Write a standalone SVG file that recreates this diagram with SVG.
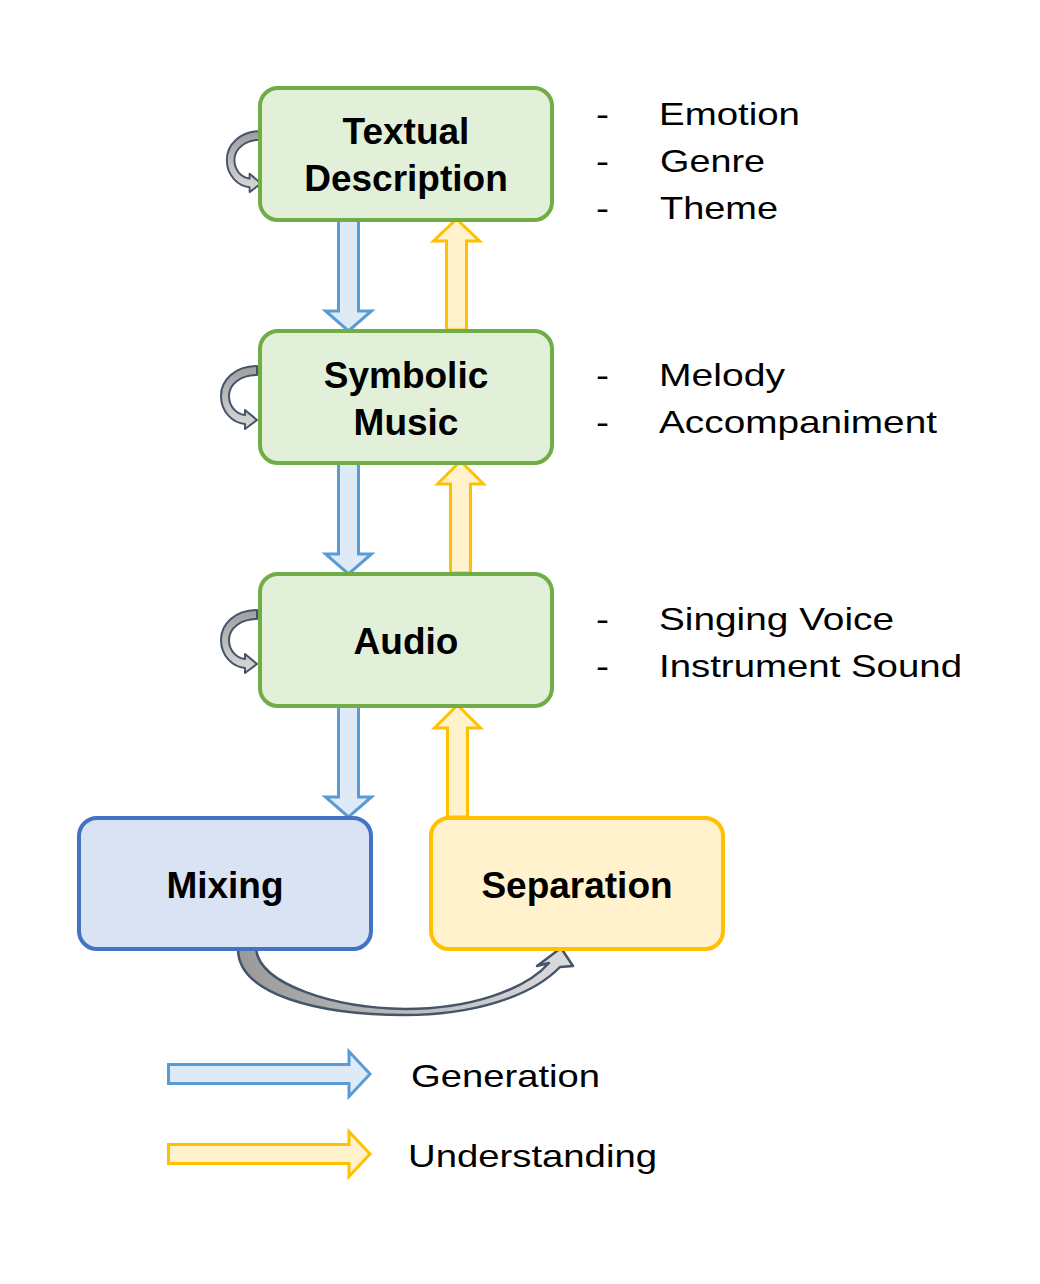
<svg xmlns="http://www.w3.org/2000/svg" width="1040" height="1284" viewBox="0 0 1040 1284">
<defs>
<linearGradient id="gLoop" x1="0" y1="0" x2="0" y2="1">
<stop offset="0" stop-color="#9E9E9E"/>
<stop offset="1" stop-color="#DADADA"/>
</linearGradient>
<linearGradient id="gCurve" x1="0" y1="0" x2="1" y2="0">
<stop offset="0" stop-color="#9A9A9A"/>
<stop offset="1" stop-color="#DCDCDC"/>
</linearGradient>
<path id="loop" d="M0,0 C-22,0 -36,14 -36,30 C-36,46 -24,57 -12,58 L-12,63 L0,54 L-12,44 L-12,49 C-21,48 -28,40 -28,30 C-28,18 -16,9 0,9 Z"/>
</defs>
<style>
.green{fill:#E2F0D9;stroke:#70AD47;stroke-width:4}
.bluebox{fill:#DAE3F3;stroke:#4472C4;stroke-width:4}
.yellowbox{fill:#FFF2CC;stroke:#FFC000;stroke-width:4}
.gen{fill:#DEEBF7;stroke:#5B9BD5;stroke-width:3}
.und{fill:#FFF2CC;stroke:#FFC000;stroke-width:3}
.lbl{font-family:"Liberation Sans",Arial,sans-serif;font-weight:bold;font-size:37px;fill:#000;text-anchor:middle}
.txt{font-family:"Liberation Sans",Arial,sans-serif;font-size:32px;fill:#000}
.loop{fill:url(#gLoop);stroke:#44546A;stroke-width:2;stroke-linejoin:round}
</style>
<rect width="1040" height="1284" fill="#FFFFFF"/>

<g id="connectors">
<polygon class="gen" points="338.5,219 358.5,219 358.5,311 371.5,311 348.5,331 325.5,311 338.5,311"/>
<polygon class="und" points="446.5,330 466.5,330 466.5,241 479.5,241 456.5,219 433.5,241 446.5,241"/>
<polygon class="gen" points="338.5,462 358.5,462 358.5,554 371.5,554 348.5,574 325.5,554 338.5,554"/>
<polygon class="und" points="450.5,573 470.5,573 470.5,484 483.5,484 460.5,461 437.5,484 450.5,484"/>
<polygon class="gen" points="338.5,705 358.5,705 358.5,797 371.5,797 348.5,817 325.5,797 338.5,797"/>
<polygon class="und" points="447.5,817 467.5,817 467.5,728 480.5,728 457.5,705 434.5,728 447.5,728"/>
<use href="#loop" class="loop" transform="translate(261,131) scale(0.95,0.97)"/>
<use href="#loop" class="loop" transform="translate(257,366)"/>
<use href="#loop" class="loop" transform="translate(257,610)"/>
<path d="M238,949 L256,949 C260,985 335,1008 405,1009 C470,1009 525,990 549,963 L537,966 L561,948 L573,966 L560,967 C530,998 470,1015 405,1015 C320,1015 238,995 238,949 Z" fill="url(#gCurve)" stroke="#44546A" stroke-width="2.5" stroke-linejoin="round"/>
</g>

<g id="node-textual">
<rect class="green" x="260" y="88" width="292" height="132" rx="18"/>
<text class="lbl" x="406" y="144">Textual</text>
<text class="lbl" x="406" y="191">Description</text>
</g>
<g id="node-symbolic">
<rect class="green" x="260" y="331" width="292" height="132" rx="18"/>
<text class="lbl" x="406" y="388">Symbolic</text>
<text class="lbl" x="406" y="435">Music</text>
</g>
<g id="node-audio">
<rect class="green" x="260" y="574" width="292" height="132" rx="18"/>
<text class="lbl" x="406" y="654">Audio</text>
</g>
<g id="node-mixing">
<rect class="bluebox" x="79" y="818" width="292" height="131" rx="18"/>
<text class="lbl" x="225" y="898">Mixing</text>
</g>
<g id="node-separation">
<rect class="yellowbox" x="431" y="818" width="292" height="131" rx="18"/>
<text class="lbl" x="577" y="898">Separation</text>
</g>

<g id="attributes">
<text class="txt" x="596" y="125" textLength="13" lengthAdjust="spacingAndGlyphs">-</text>
<text class="txt" x="659" y="125" textLength="141" lengthAdjust="spacingAndGlyphs">Emotion</text>
<text class="txt" x="596" y="172" textLength="13" lengthAdjust="spacingAndGlyphs">-</text>
<text class="txt" x="660" y="172" textLength="105" lengthAdjust="spacingAndGlyphs">Genre</text>
<text class="txt" x="596" y="219" textLength="13" lengthAdjust="spacingAndGlyphs">-</text>
<text class="txt" x="660" y="219" textLength="118" lengthAdjust="spacingAndGlyphs">Theme</text>
<text class="txt" x="596" y="386" textLength="13" lengthAdjust="spacingAndGlyphs">-</text>
<text class="txt" x="659" y="386" textLength="126" lengthAdjust="spacingAndGlyphs">Melody</text>
<text class="txt" x="596" y="433" textLength="13" lengthAdjust="spacingAndGlyphs">-</text>
<text class="txt" x="659" y="433" textLength="278" lengthAdjust="spacingAndGlyphs">Accompaniment</text>
<text class="txt" x="596" y="630" textLength="13" lengthAdjust="spacingAndGlyphs">-</text>
<text class="txt" x="659" y="630" textLength="235" lengthAdjust="spacingAndGlyphs">Singing Voice</text>
<text class="txt" x="596" y="677" textLength="13" lengthAdjust="spacingAndGlyphs">-</text>
<text class="txt" x="659" y="677" textLength="303" lengthAdjust="spacingAndGlyphs">Instrument Sound</text>
</g>

<g id="legend">
<polygon class="gen" points="168.5,1064.5 349,1064.5 349,1051.5 370,1074 349,1096.5 349,1083.5 168.5,1083.5"/>
<polygon class="und" points="168.5,1144.5 349,1144.5 349,1131.5 370,1154 349,1176.5 349,1163.5 168.5,1163.5"/>
<text class="txt" x="411" y="1087" textLength="189" lengthAdjust="spacingAndGlyphs">Generation</text>
<text class="txt" x="408" y="1167" textLength="249" lengthAdjust="spacingAndGlyphs">Understanding</text>
</g>
</svg>
